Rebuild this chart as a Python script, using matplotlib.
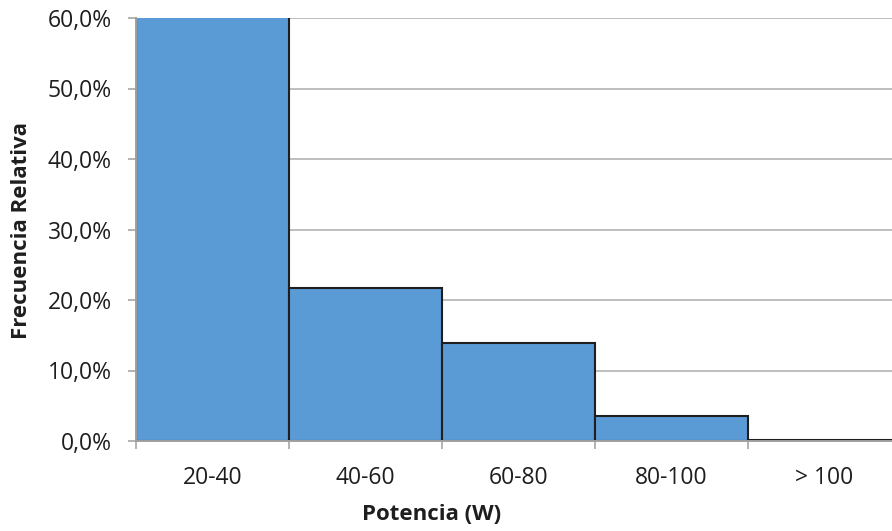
import numpy as np
import matplotlib
matplotlib.use("Agg")
import matplotlib.pyplot as plt
from matplotlib.ticker import FuncFormatter, FixedLocator

# Дані гістограми (відносна частота, %)
categories = ["20-40", "40-60", "60-80", "80-100", "> 100"]
rel_freq = [60.4, 21.7, 13.9, 3.5, 0.2]
y_ticks = [0, 10, 20, 30, 40, 50, 60]

plt.rcParams['font.family'] = ['Open Sans', 'DejaVu Sans']

W, H = 892, 531
fig = plt.figure(figsize=(W / 100, H / 100), dpi=100)
# права межа області побудови трохи за краєм картинки, як в оригіналі
ax = fig.add_axes([136 / W, 90 / H, 765 / W, 423 / H])

x = np.arange(len(categories))
ax.bar(x, rel_freq, width=1.0, color='#5B9BD5', edgecolor='#1e1e1e',
       linewidth=1.5, zorder=2)

ax.set_xlim(-0.5, len(categories) - 0.5)
ax.set_ylim(0, 60)

ax.set_yticks(y_ticks)
ax.yaxis.set_major_formatter(FuncFormatter(lambda v, p: f"{v:.1f}%".replace('.', ',')))
ax.grid(axis='y', color='#b3b3b3', linewidth=1.2, zorder=0)

ax.set_xticks(x)
ax.set_xticklabels(categories)
ax.xaxis.set_minor_locator(FixedLocator(np.arange(-0.5, len(categories), 1.0)))
ax.tick_params(axis='x', which='major', length=0, pad=18, labelsize=16.5, colors='#1e1e1e')
ax.tick_params(axis='x', which='minor', length=5.8, width=1.2, color='#a6a6a6')
ax.tick_params(axis='y', length=5.8, width=1.2, color='#a6a6a6', pad=11.5,
               labelsize=16.5, labelcolor='#1e1e1e')

for side in ['top', 'right']:
    ax.spines[side].set_visible(False)
for side in ['left', 'bottom']:
    ax.spines[side].set_color('#a0a0a0')
    ax.spines[side].set_linewidth(1.4)
    ax.spines[side].set_zorder(3)

# підписи осей — позиції як на оригіналі
fig.text(432 / W, 1 - 514 / H, "Potencia (W)", fontsize=16, fontweight='bold',
         color='#1e1e1e', ha='center', va='center')
fig.text(22 / W, 1 - 230 / H, "Frecuencia Relativa", fontsize=16, fontweight='bold',
         color='#1e1e1e', ha='center', va='center', rotation=90)

fig.savefig("out.png", dpi=100)
